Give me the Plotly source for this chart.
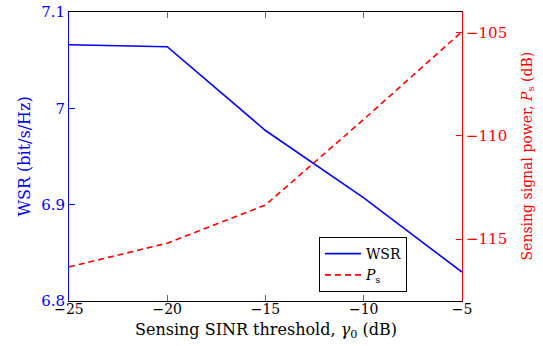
import plotly.graph_objects as go

gamma0 = [-25, -20, -15, -10, -5]
wsr = [7.066, 7.064, 6.977, 6.907, 6.830]
ps = [-116.35, -115.2, -113.35, -109.2, -104.95]

x_ticks = [-25, -20, -15, -10, -5]
wsr_ticks = [6.8, 6.9, 7.0, 7.1]
wsr_ticktext = ["6.8", "6.9", "7", "7.1"]
ps_ticks = [-115, -110, -105]

FONT = "DejaVu Serif, serif"
FS = 15
BLUE = "#0000ff"
RED = "#ff0000"

fig = go.Figure()
fig.add_trace(go.Scatter(x=gamma0, y=wsr, mode="lines", name="WSR",
                         line=dict(color=BLUE, width=1.6), yaxis="y"))
fig.add_trace(go.Scatter(x=gamma0, y=ps, mode="lines", name="<i>P</i><sub>s</sub>",
                         line=dict(color=RED, width=1.6, dash="6px,4px"), yaxis="y2"))

fig.update_layout(
    width=543, height=346, autosize=False,
    margin=dict(l=69, r=81, t=12, b=45, pad=0, autoexpand=False),
    paper_bgcolor="white", plot_bgcolor="white",
    font=dict(family=FONT, size=FS, color="black"),
    showlegend=True,
    legend=dict(x=0.636, y=0.031, xanchor="left", yanchor="bottom",
                bordercolor="black", borderwidth=1, bgcolor="white",
                font=dict(family=FONT, size=14), tracegroupgap=0, itemwidth=36),
    xaxis=dict(range=[-25, -5], tickvals=x_ticks, ticks="inside", ticklen=6,
               tickcolor="#666666", showline=True, linecolor="black", linewidth=1,
               mirror="ticks", showgrid=False, zeroline=False, automargin=False,
               ticklabeloverflow="allow", ticklabelstandoff=-5,
               tickfont=dict(family=FONT, size=14)),
    yaxis=dict(range=[6.8, 7.1], tickvals=wsr_ticks, ticktext=wsr_ticktext,
               ticks="inside", ticklen=6, tickcolor=BLUE, automargin=False,
               ticklabeloverflow="allow",
               showline=True, linecolor=BLUE, linewidth=1, showgrid=False, zeroline=False,
               tickfont=dict(family=FONT, size=FS, color=BLUE)),
    yaxis2=dict(range=[-118, -104], tickvals=ps_ticks, overlaying="y", side="right",
                ticks="inside", ticklen=6, tickcolor=RED, automargin=False,
                ticklabeloverflow="allow",
                showline=True, linecolor=RED, linewidth=1, showgrid=False, zeroline=False,
                tickfont=dict(family=FONT, size=FS, color=RED)),
    annotations=[
        dict(text="Sensing SINR threshold, <i>γ</i><sub>0</sub> (dB)", xref="paper", yref="paper",
             x=0.5, y=0, xanchor="center", yanchor="middle", yshift=-29, showarrow=False,
             font=dict(family=FONT, size=16, color="black")),
        dict(text="WSR (bit/s/Hz)", xref="paper", yref="paper", x=0, y=0.5,
             xanchor="center", yanchor="middle", xshift=-45, textangle=-90, showarrow=False,
             font=dict(family=FONT, size=16, color=BLUE)),
        dict(text="Sensing signal power, <i>P</i><sub>s</sub> (dB)", xref="paper", yref="paper",
             x=1, y=0.5, xanchor="center", yanchor="middle", xshift=65, textangle=-90,
             showarrow=False, font=dict(family=FONT, size=14, color=RED)),
    ],
)

fig.write_html("out.html", config={"displayModeBar": False},
               post_script="document.body.style.margin='0';")
